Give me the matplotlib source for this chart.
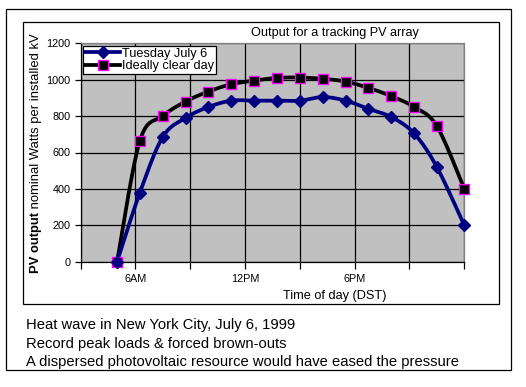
import numpy as np
import matplotlib
matplotlib.use("Agg")
import matplotlib.pyplot as plt
from matplotlib.patches import Rectangle
from matplotlib.lines import Line2D

# ---- data ----
hours = [5.0, 6.25, 7.5, 8.75, 10.0, 11.25, 12.5, 13.75, 15.0, 16.25, 17.5, 18.75, 20.0, 21.25, 22.5, 24.0]
tuesday = [0, 380, 685, 790, 850, 885, 885, 885, 885, 905, 885, 840, 795, 705, 520, 200]
ideal = [0, 665, 800, 880, 935, 975, 995, 1010, 1012, 1005, 990, 955, 910, 850, 745, 400]
series_names = ["Tuesday July 6", "Ideally clear day"]
xtick_pos = [3, 6, 9, 12, 15, 18, 21, 24]
xtick_labels = ["", "6AM", "", "12PM", "", "6PM", "", ""]
ytick_vals = [0, 200, 400, 600, 800, 1000, 1200]
footer = ["Heat wave in New York City, July 6, 1999",
          "Record peak loads & forced brown-outs",
          "A dispersed photovoltaic resource would have eased the pressure"]

plt.rcParams['font.family'] = ['Liberation Sans', 'DejaVu Sans']

W, H = 526, 387
fig = plt.figure(figsize=(W / 100, H / 100), dpi=100)


def fx(px):
    return px / W


def fy(py):
    return (H - py) / H


# outer and inner frames
fig.patches.append(Rectangle((fx(5.5), fy(369.5)), fx(511) - fx(5.5), fy(8.5) - fy(369.5),
                             transform=fig.transFigure, fill=False, ec='black', lw=0.9))
fig.patches.append(Rectangle((fx(22.5), fy(303.5)), fx(498.5) - fx(22.5), fy(21.5) - fy(303.5),
                             transform=fig.transFigure, fill=False, ec='black', lw=0.9))

ax = fig.add_axes([fx(80.5), fy(261.7), fx(464.3) - fx(80.5), fy(43.3) - fy(261.7)])
ax.set_facecolor('#C0C0C0')


def smooth(x, y, n=24):
    # Excel-style smoothed line: cubic Bezier with Catmull-Rom control points
    P = np.column_stack([np.asarray(x, float), np.asarray(y, float)])
    out = [P[0]]
    t = np.linspace(0, 1, n)[1:]
    for i in range(len(P) - 1):
        p0 = P[i - 1] if i > 0 else P[i]
        p1 = P[i]
        p2 = P[i + 1]
        p3 = P[i + 2] if i + 2 < len(P) else P[i + 1]
        c1 = p1 + (p2 - p0) / 6
        c2 = p2 - (p3 - p1) / 6
        for tt in t:
            out.append(((1 - tt) ** 3) * p1 + 3 * ((1 - tt) ** 2) * tt * c1
                       + 3 * (1 - tt) * tt ** 2 * c2 + tt ** 3 * p2)
    out = np.array(out)
    return out[:, 0], out[:, 1]


sx, sy = smooth(hours, ideal)
ax.plot(sx, sy, color='black', lw=2.7, zorder=3, clip_on=False)
ax.plot(hours, ideal, ls='none', marker='s', ms=7, mfc='black', mec='#FF00FF', mew=1.0,
        zorder=5, clip_on=False)
tx, ty = smooth(hours, tuesday)
ax.plot(tx, ty, color='#000080', lw=2.7, zorder=4, clip_on=False)
ax.plot(hours, tuesday, ls='none', marker='D', ms=6, mfc='#000080', mec='#000080',
        zorder=6, clip_on=False)

ax.set_xlim(3, 24)
ax.set_ylim(0, 1200)
ax.set_xticks(xtick_pos)
ax.set_xticklabels(xtick_labels)
ax.set_yticks(ytick_vals)
ax.set_yticklabels([str(v) for v in ytick_vals])
ax.grid(True, color='black', lw=0.9)
ax.set_axisbelow(True)
ax.tick_params(axis='both', direction='out', color='black', labelsize=7.8, width=0.9)
ax.tick_params(axis='y', length=4, pad=3)
ax.tick_params(axis='x', length=5, pad=4)
for s in ['top', 'right']:
    ax.spines[s].set_color('#808080')
    ax.spines[s].set_linewidth(0.9)
for s in ['left', 'bottom']:
    ax.spines[s].set_color('black')
    ax.spines[s].set_linewidth(0.9)

# legend
handles = [Line2D([], [], color='#000080', lw=2.7, marker='D', ms=6, mfc='#000080', mec='#000080'),
           Line2D([], [], color='black', lw=2.7, marker='s', ms=7, mfc='black', mec='#FF00FF', mew=1.0)]
leg = ax.legend(handles, series_names, loc='upper left', bbox_to_anchor=(0.006, 0.988),
                fontsize=9.2, frameon=True, fancybox=False, framealpha=1, edgecolor='black',
                borderpad=0.15, labelspacing=0.05, handlelength=2.8, handletextpad=0.15,
                borderaxespad=0)
leg.get_frame().set_linewidth(0.9)
leg.set_zorder(10)

# title & axis labels
fig.text(fx(335), fy(33), "Output for a tracking PV array", ha='center', va='center', fontsize=9.1)
fig.text(fx(335), fy(296), "Time of day (DST)", ha='center', va='center', fontsize=9.2)

t1 = fig.text(fx(36), fy(273), "PV output", rotation=90, ha='center', va='bottom',
              fontsize=9.4, fontweight='bold')
fig.canvas.draw()
ax.annotate(" nominal Watts per installed kV", xy=(0.5, 1.0), xycoords=t1,
            rotation=90, ha='center', va='bottom', fontsize=9.4, annotation_clip=False)

for i, line in enumerate(footer):
    fig.text(fx(26), fy(325 + i * 18.7), line, ha='left', va='center', fontsize=10.6)

fig.savefig("out.png", dpi=100)
